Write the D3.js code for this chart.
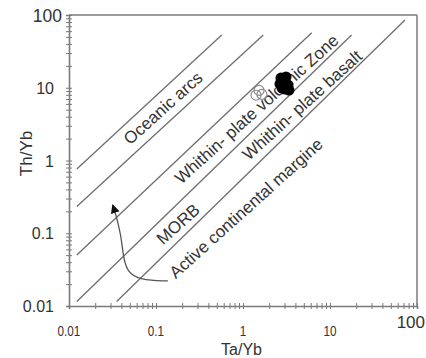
<!DOCTYPE html>
<html>
<head>
<meta charset="utf-8">
<script src="https://cdn.jsdelivr.net/npm/d3@7"></script>
<style>
  html, body { margin: 0; padding: 0; background: #fff; }
  svg { display: block; }
  text { font-family: "Liberation Sans", Arial, sans-serif; fill: #333; }
</style>
</head>
<body>
<svg id="chart" width="426" height="358"></svg>
<script>
// ---- data ----
const xTickLabels = ["0.01", "0.1", "1", "10", "100"];
const yTickLabels = ["0.01", "0.1", "1", "10", "100"];
const xTickValues = [0.01, 0.1, 1, 10, 100];
const yTickValues = [0.01, 0.1, 1, 10, 100];

// field boundary lines: [x1, y1, x2, y2] in Ta/Yb, Th/Yb units
const boundaryNames = ["A", "B", "C", "D", "E"];
const boundaryStart = [[0.0123, 0.764], [0.0123, 0.233], [0.0123, 0.0502], [0.0123, 0.01153], [0.0353, 0.01153]];
const boundaryEnd = [[0.569, 53.1], [1.71, 53.1], [6.16, 57.1], [17.7, 53.1], [72.8, 85.4]];

// field labels and their anchor (Ta/Yb, Th/Yb)
const fieldLabels = ["Oceanic arcs", "Whithin- plate volcanic Zone", "MORB", "Whithin- plate basalt", "Active continental margine"];
const fieldLabelX = [0.1203, 1.43, 0.179, 4.76, 1.08];
const fieldLabelY = [5.27, 5.11, 0.134, 5.79, 0.222];

// samples
const filledTaYb = [2.73, 3.12, 2.96, 2.66, 3.29, 3.04, 3.38, 2.81];
const filledThYb = [13.6, 14.1, 11.6, 11.3, 10.9, 9.6, 9.3, 9.9];
const openTaYb = [1.41, 1.65, 1.53];
const openThYb = [7.9, 8.1, 9.2];

// annotation arrow path (Ta/Yb, Th/Yb)
const arrowTaYb = [0.137, 0.0655, 0.0464, 0.0418, 0.0396, 0.0347, 0.0318];
const arrowThYb = [0.0221, 0.0228, 0.0293, 0.0502, 0.0946, 0.178, 0.245];

// ---- drawing ----
const svg = d3.select("#chart");
const x = d3.scaleLog().domain([0.01, 100]).range([69, 417]);
const y = d3.scaleLog().domain([0.01, 100]).range([306, 15]);

const minorTicks = [];
for (let e = -2; e <= 2; e++) {
  for (let m = 1; m <= 9; m++) {
    const v = m * Math.pow(10, e);
    if (v <= 100.0001) minorTicks.push(v);
  }
}

const axisColor = "#7a7a7a";
const lineColor = "#6e6e6e";

// frame (top & right)
svg.append("line").attr("x1", x(0.01)).attr("x2", x(100)).attr("y1", y(100)).attr("y2", y(100))
  .attr("stroke", axisColor).attr("stroke-width", 1.5);
svg.append("line").attr("x1", x(100)).attr("x2", x(100)).attr("y1", y(100)).attr("y2", y(0.01))
  .attr("stroke", axisColor).attr("stroke-width", 1.5);

// y axis
const gy = svg.append("g").attr("transform", `translate(${x(0.01)},0)`)
  .call(d3.axisLeft(y).tickValues(minorTicks).tickSize(3).tickFormat(""));
gy.select(".domain").attr("stroke", axisColor).attr("stroke-width", 1.6);
gy.selectAll(".tick line").attr("x1", 3).attr("x2", -3).attr("stroke", axisColor).attr("stroke-width", 1);

// x axis
const gx = svg.append("g").attr("transform", `translate(0,${y(0.01)})`)
  .call(d3.axisBottom(x).tickValues(minorTicks).tickSize(3).tickFormat(""));
gx.select(".domain").attr("stroke", axisColor).attr("stroke-width", 1.6);
gx.selectAll(".tick line").attr("y1", -3).attr("y2", 3).attr("stroke", axisColor).attr("stroke-width", 1);

// y tick labels
svg.selectAll(".ylab").data(yTickValues.slice(0, 4)).enter().append("text")
  .attr("class", "ylab")
  .attr("x", 54).attr("y", d => y(d) + 6)
  .attr("text-anchor", "end").style("font-size", "16px")
  .text((d, i) => yTickLabels[i]);
svg.append("text")
  .attr("x", 62).attr("y", y(100) + 7)
  .attr("text-anchor", "end").style("font-size", "17.5px")
  .text(yTickLabels[4]);

// x tick labels (condensed)
svg.selectAll(".xlab").data(xTickValues.slice(0, 4)).enter().append("text")
  .attr("class", "xlab")
  .attr("transform", d => `translate(${x(d)},336) scale(0.78,1)`)
  .attr("text-anchor", "middle").style("font-size", "15px")
  .text((d, i) => xTickLabels[i]);
svg.append("text")
  .attr("x", 425).attr("y", 328)
  .attr("text-anchor", "end").style("font-size", "17px")
  .text(xTickLabels[4]);

// axis titles
svg.append("text").attr("x", 241.5).attr("y", 355).attr("text-anchor", "middle")
  .style("font-size", "16px").text("Ta/Yb");
svg.append("text").attr("transform", "translate(31.5,153.5) rotate(-90)").attr("text-anchor", "middle")
  .style("font-size", "17px").text("Th/Yb");

// boundary lines
svg.selectAll(".bound").data(boundaryNames).enter().append("line")
  .attr("class", "bound")
  .attr("x1", (d, i) => x(boundaryStart[i][0])).attr("y1", (d, i) => y(boundaryStart[i][1]))
  .attr("x2", (d, i) => x(boundaryEnd[i][0])).attr("y2", (d, i) => y(boundaryEnd[i][1]))
  .attr("stroke", lineColor).attr("stroke-width", 1.3);

// field labels
svg.selectAll(".field").data(fieldLabels).enter().append("text")
  .attr("class", "field")
  .attr("transform", (d, i) => `translate(${x(fieldLabelX[i])},${y(fieldLabelY[i])}) rotate(-42)`)
  .attr("text-anchor", "middle").attr("dy", "0.35em")
  .style("font-size", "17px").style("fill", "#333")
  .text(d => d);

// arrow
const arrowPts = arrowTaYb.map((v, i) => [x(v), y(arrowThYb[i])]);
svg.append("defs").append("marker")
  .attr("id", "ah").attr("viewBox", "0 0 10 10").attr("refX", 9).attr("refY", 5)
  .attr("markerWidth", 9).attr("markerHeight", 9).attr("markerUnits", "userSpaceOnUse")
  .attr("orient", "auto")
  .append("path").attr("d", "M0,0 L10,5 L0,10 Z").attr("fill", "#111");
svg.append("path")
  .attr("d", d3.line().curve(d3.curveBasis)(arrowPts))
  .attr("fill", "none").attr("stroke", "#555").attr("stroke-width", 1.3)
  .attr("marker-end", "url(#ah)");

// samples
svg.selectAll(".open").data(openTaYb).enter().append("circle")
  .attr("cx", d => x(d)).attr("cy", (d, i) => y(openThYb[i])).attr("r", 5)
  .attr("fill", "none").attr("stroke", "#888").attr("stroke-width", 1.1);
svg.selectAll(".filled").data(filledTaYb).enter().append("circle")
  .attr("cx", d => x(d)).attr("cy", (d, i) => y(filledThYb[i])).attr("r", 5.5)
  .attr("fill", "#000");
</script>
</body>
</html>
